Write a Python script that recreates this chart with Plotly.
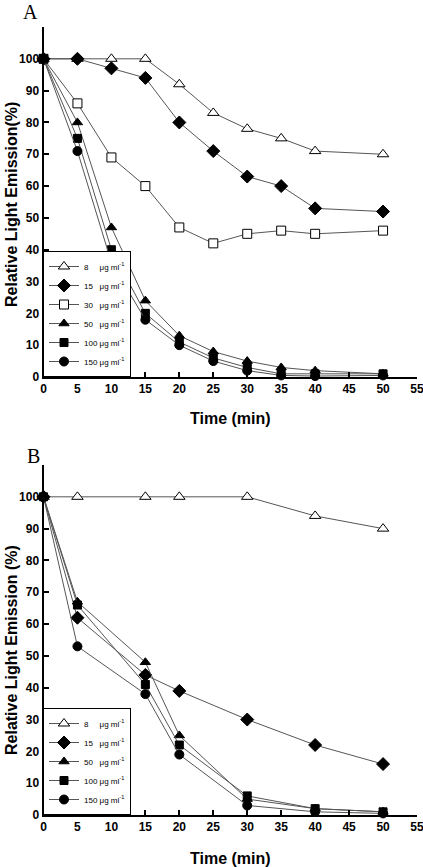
import plotly.graph_objects as go

# ---------------- data ----------------
time_a = [0, 5, 10, 15, 20, 25, 30, 35, 40, 50]
a_8 = [100, 100, 100, 100, 92, 83, 78, 75, 71, 70]
a_15 = [100, 100, 97, 94, 80, 71, 63, 60, 53, 52]
a_30 = [100, 86, 69, 60, 47, 42, 45, 46, 45, 46]
a_50 = [100, 80, 47, 24, 13, 8, 5, 3, 2, 1]
a_100 = [100, 75, 40, 20, 11, 6, 3, 1, 1, 1]
a_150 = [100, 71, 36, 18, 10, 5, 2, 0.5, 0.3, 0.5]

time_b = [0, 5, 15, 20, 30, 40, 50]
b_8 = [100, 100, 100, 100, 100, 94, 90]
b_15 = [100, 62, 44, 39, 30, 22, 16]
b_50 = [100, 67, 48, 25, 5, 2, 1]
b_100 = [100, 66, 41, 22, 6, 2, 1]
b_150 = [100, 53, 38, 19, 3, 1, 0.5]

NB = "\u00a0"
lab = {
    "8": "8" + NB * 5 + "μg ml<sup>-1</sup>",
    "15": "15" + NB * 3 + "μg ml<sup>-1</sup>",
    "30": "30" + NB * 3 + "μg ml<sup>-1</sup>",
    "50": "50" + NB * 3 + "μg ml<sup>-1</sup>",
    "100": "100" + NB + "μg ml<sup>-1</sup>",
    "150": "150" + NB + "μg ml<sup>-1</sup>",
}

x_ticks = list(range(0, 60, 5))
y_ticks = list(range(0, 120, 10))
y_ticktext = [str(v) if v <= 100 else "" for v in y_ticks]

W, H = 423, 867
LINE = "#555555"

styles = {
    "8": dict(symbol="triangle-up", color="white"),
    "15": dict(symbol="diamond", color="black"),
    "30": dict(symbol="square", color="white"),
    "50": dict(symbol="triangle-up", color="black"),
    "100": dict(symbol="square", color="black"),
    "150": dict(symbol="circle", color="black"),
}
sizes = {"8": 10, "15": 10, "30": 9, "50": 9, "100": 8, "150": 9}

fig = go.Figure()

def add(x, y, key, xa, ya, leg):
    st = styles[key]
    fig.add_trace(go.Scatter(
        x=x, y=y, name=lab[key], mode="lines+markers",
        xaxis=xa, yaxis=ya, legend=leg, cliponaxis=False,
        line=dict(color=LINE, width=1),
        marker=dict(symbol=st["symbol"], size=sizes[key], color=st["color"],
                    line=dict(color="black", width=1)),
    ))

for key, ys in [("8", a_8), ("15", a_15), ("30", a_30), ("50", a_50),
                ("100", a_100), ("150", a_150)]:
    add(time_a, ys, key, "x", "y", "legend")

for key, ys in [("8", b_8), ("15", b_15), ("50", b_50), ("100", b_100),
                ("150", b_150)]:
    add(time_b, ys, key, "x2", "y2", "legend2")

tickfont = dict(family="Liberation Sans, Arial, sans-serif",
                size=12, color="black", weight="bold")

def px_x(p):
    return p / W

def px_y(p):
    return 1 - p / H

xdom = [px_x(43.5), px_x(417)]
xcommon = dict(range=[0, 55], tickvals=x_ticks, ticks="inside", ticklen=5, tickwidth=1.5,
               tickcolor="black", showline=True, linecolor="black", linewidth=2,
               showgrid=False, zeroline=False, tickfont=tickfont, domain=xdom,
               ticklabeloverflow="allow", automargin=False)
ycommon = dict(range=[0, 110], tickvals=y_ticks, ticktext=y_ticktext, ticks="inside",
               ticklen=5, tickwidth=1.5, tickcolor="black", showline=True,
               linecolor="black", linewidth=2, showgrid=False, zeroline=False,
               tickfont=tickfont, automargin=False)

legcommon = dict(bgcolor="white", bordercolor="black", borderwidth=1,
                 font=dict(family="Liberation Sans, Arial, sans-serif",
                           size=8, color="black"),
                 itemwidth=30, xanchor="left", yanchor="bottom", tracegroupgap=0)

fig.update_layout(
    width=W, height=H, margin=dict(l=0, r=0, t=0, b=0, autoexpand=False),
    paper_bgcolor="white", plot_bgcolor="white", showlegend=True,
    xaxis=dict(**xcommon, anchor="y"),
    yaxis=dict(**ycommon, anchor="x", domain=[px_y(377), px_y(27)]),
    xaxis2=dict(**xcommon, anchor="y2"),
    yaxis2=dict(**ycommon, anchor="x2", domain=[px_y(815), px_y(465)]),
    legend=dict(**legcommon, x=px_x(43), y=px_y(377)),
    legend2=dict(**legcommon, x=px_x(43), y=px_y(815)),
)

titlefont = dict(family="Liberation Sans, Arial, sans-serif", size=16, color="black", weight="bold")
serif = dict(family="Liberation Serif, Times New Roman, serif", size=20, color="black")
annots = [
    dict(text="A", x=px_x(31), y=px_y(0), yanchor="top", font=serif),
    dict(text="B", x=px_x(33), y=px_y(444), yanchor="top", font=serif),
    dict(text="Relative Light Emission(%)", x=px_x(11), y=px_y(205), yanchor="middle", textangle=-90, font=titlefont),
    dict(text="Relative Light Emission (%)", x=px_x(11), y=px_y(650), yanchor="middle", textangle=-90, font=titlefont),
    dict(text="Time (min)", x=px_x(230), y=px_y(419), yanchor="middle", font=titlefont),
    dict(text="Time (min)", x=px_x(230), y=px_y(858), yanchor="middle", font=titlefont),
]
for a in annots:
    fig.add_annotation(xref="paper", yref="paper", showarrow=False,
                       xanchor="center", borderpad=0, **a)

fig.write_html("out.html", config={"displayModeBar": False},
               post_script="document.body.style.margin='0';document.body.style.overflow='hidden';")
